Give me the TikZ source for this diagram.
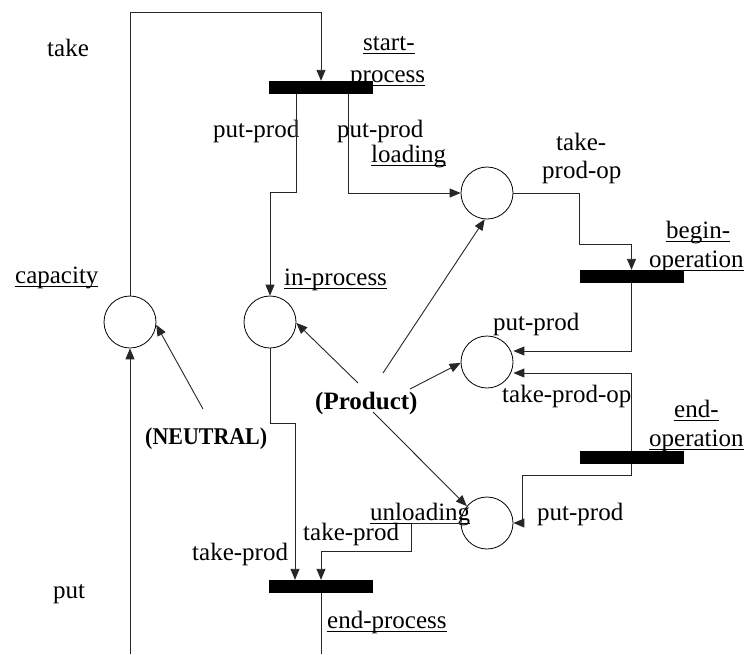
\documentclass[tikz,border=0pt]{standalone}
\usepackage{graphicx}
\usepackage{fontspec}
\setmainfont{Liberation Serif}
\usetikzlibrary{arrows.meta,calc}
\newsavebox\ulbox
\newcommand\ulx[1]{\sbox\ulbox{#1}\rlap{\rule[-3.5pt]{\wd\ulbox}{0.9pt}}\usebox\ulbox}
\begin{document}
\begin{tikzpicture}[x=1pt,y=-1pt,
  place/.style={circle,draw=black,line width=0.8pt,minimum size=52pt,inner sep=0pt},
  trans/.style={fill=black,draw=none,minimum width=104pt,minimum height=13pt,inner sep=0pt},
  lbl/.style={anchor=base west,inner sep=0pt,font=\fontsize{25}{30}\selectfont},
  blbl/.style={anchor=base west,inner sep=0pt,font=\fontsize{25}{30}\selectfont\bfseries},
  arc/.style={draw=black!85,line width=0.9pt},
  arr/.style={arc,-{Triangle[length=11pt,width=9pt]}}]
\useasboundingbox (0,0) rectangle (749,654);
\coordinate (bot) at (0,654);
\coordinate (topy) at (0,12);
% places
\node[place] (cap) at (130,322) {};
\node[place] (inproc) at (270,322) {};
\node[place] (load) at (487,193) {};
\node[place] (mid) at (487,362) {};
\node[place] (unload) at (487,523) {};
% transitions
\node[trans] (sp) at (321,87.5) {};
\node[trans] (bo) at (631.5,276.5) {};
\node[trans] (eo) at (631.5,457.5) {};
\node[trans] (ep) at (321,586.5) {};
% labels
\node[lbl] (tTake) at (47,56) {take};
\node[lbl] (tStart) at (363,50) {\ulx{start-}};
\node[lbl] (tProcess) at (350,82) {\ulx{process}};
\node[lbl] (tPutL) at (213,137) {put-prod};
\node[lbl] (tPutR) at (337,137) {put-prod};
\node[lbl] (tLoading) at (371,162) {\ulx{loading}};
\node[lbl] (tTake2) at (556,150) {take-};
\node[lbl] (tProdOp) at (542,178) {prod-op};
\node[lbl] (tBegin) at (666,238) {\ulx{begin-}};
\node[lbl] (tOper1) at (649,267) {\ulx{operation}};
\node[lbl] (tPutM) at (493,330) {put-prod};
\node[lbl] (tCap) at (15,283) {\ulx{capacity}};
\node[lbl] (tInproc) at (284,285) {\ulx{in-process}};
\node[blbl] (prod) at (315,409) {(Product)};
\node[blbl,font=\fontsize{24}{28}\selectfont\bfseries] (neutral) at (145,444) {\scalebox{0.915}[1]{(NEUTRAL)}};
\node[lbl] (tTakeOp) at (502,402) {take-prod-op};
\node[lbl] (tEnd) at (674,417) {\ulx{end-}};
\node[lbl] (tOper2) at (649,446) {\ulx{operation}};
\node[lbl] (tPutU) at (537,520) {put-prod};
\node[lbl] (tUnload) at (370,520) {\ulx{unloading}};
\node[lbl] (tTakeR) at (303,540) {take-prod};
\node[lbl] (tTakeL) at (192,560) {take-prod};
\node[lbl] (tEndProc) at (327,628) {\ulx{end-process}};
\node[lbl] (tPut) at (53,598) {put};
% connectors
\draw[arr] (cap.north) -- (cap.north |- topy) -| (sp.north);
\draw[arr] ($(sp.south)+(-25,0)$) |- ($(inproc.north)+(0,-103)$) -- (inproc.north);
\draw[arr] ($(sp.south)+(27,0)$) |- (load.west);
\draw[arr] (load.east) -| ($(bo.north)+(-52,-25)$) -| (bo.north);
\draw[arr] (bo.south) |- ($(mid.east)+(0,-11)$);
\draw[arr] (eo.north) |- ($(mid.east)+(0,11)$);
\draw[arr] (eo.south) -- ($(eo.south)+(0,11)$) -| ($(unload.east)+(9,0)$) -- (unload.east);
\draw[arr] (unload.west) -| ($(ep.north)+(90,-28)$) -| (ep.north);
\draw[arr] (inproc.south) |- ($(ep.north)+(-26,-156)$) -- ($(ep.north)+(-26,0)$);
\draw[arc] (ep.south) -- (ep.south |- bot);
\draw[arr] (cap.south |- bot) -- (cap.south);
\draw[arr] ($(neutral.base west)+(58,-35)$) -- (cap.-6);
\draw[arr] ($(prod.base west)+(43,-26)$) -- (inproc.-2);
\draw[arr] ($(prod.base west)+(68,-36)$) -- (load.-95);
\draw[arr] ($(prod.base west)+(95,-20)$) -- (mid.182);
\draw[arr] ($(prod.base west)+(58,3)$) -- (unload.140);
\end{tikzpicture}
\end{document}
